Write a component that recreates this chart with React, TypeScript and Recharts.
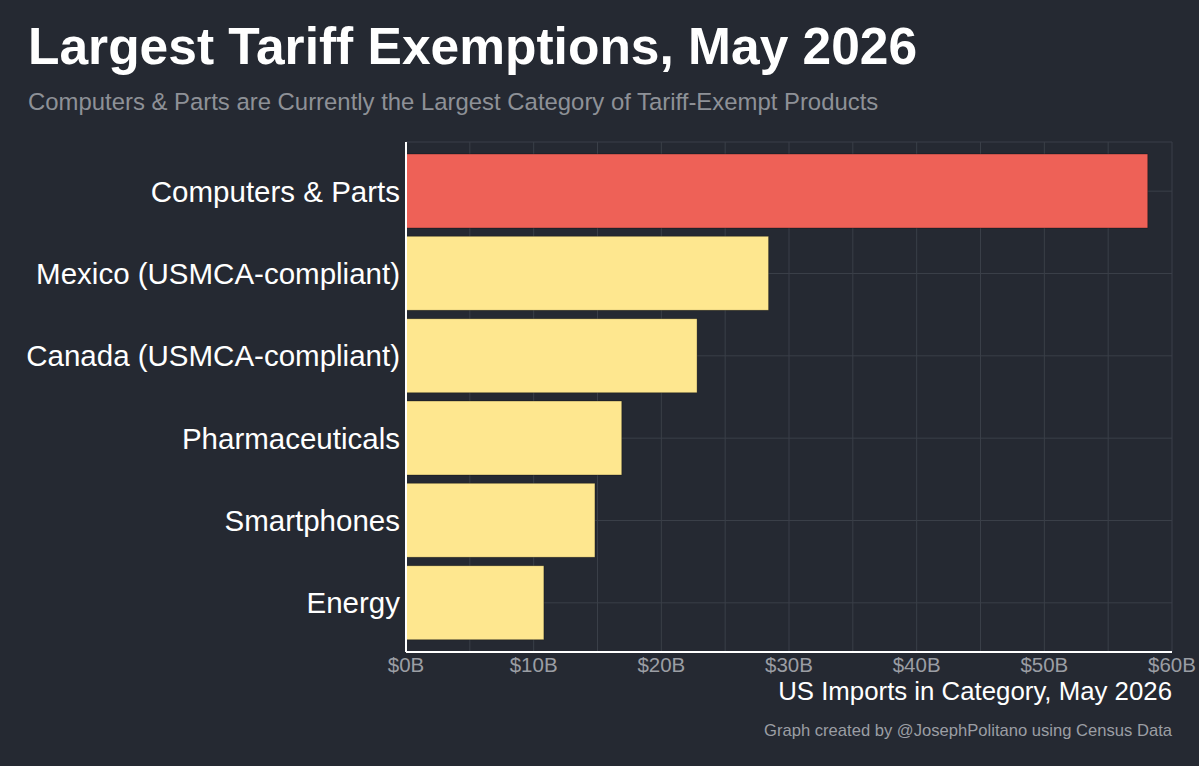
import React from 'react';
import { BarChart, Bar, XAxis, YAxis, CartesianGrid, Cell } from 'recharts';

const categories = [
  'Computers & Parts',
  'Mexico (USMCA-compliant)',
  'Canada (USMCA-compliant)',
  'Pharmaceuticals',
  'Smartphones',
  'Energy',
];
const imports = [58.1, 28.4, 22.8, 16.9, 14.8, 10.8];
const xTicks = [0, 5, 10, 15, 20, 25, 30, 35, 40, 45, 50, 55, 60];

const title = 'Largest Tariff Exemptions, May 2026';
const subtitle = 'Computers & Parts are Currently the Largest Category of Tariff-Exempt Products';
const xTitle = 'US Imports in Category, May 2026';
const caption = 'Graph created by @JosephPolitano using Census Data';

const BG = '#252932';
const RED = '#EE6157';
const YELLOW = '#FEE78F';
const GRID = '#3a3f48';
const FONT = '"Liberation Sans", Arial, Helvetica, sans-serif';

const data = categories.map((name, i) => ({ name, value: imports[i] }));

export default function App() {
  return (
    <div
      style={{
        position: 'absolute',
        left: 0,
        top: 0,
        width: 1199,
        height: 766,
        background: BG,
        fontFamily: FONT,
        overflow: 'hidden',
      }}
    >
      <BarChart
        width={1199}
        height={766}
        data={data}
        layout="vertical"
        margin={{ top: 142, right: 27, bottom: 84, left: 6 }}
        barSize={74}
      >
        <CartesianGrid stroke={GRID} strokeWidth={1} />
        <XAxis
          type="number"
          dataKey="value"
          domain={[0, 60]}
          ticks={xTicks}
          interval={0}
          height={30}
          tickLine={false}
          tickSize={0}
          tickMargin={5}
          axisLine={{ stroke: '#ffffff', strokeWidth: 2 }}
          tick={{ fill: '#9b9ea4', fontSize: 20.5, fontFamily: FONT }}
          tickFormatter={(v: number) => (v % 10 === 0 ? `$${v}B` : '')}
        />
        <YAxis
          type="category"
          dataKey="name"
          width={400}
          padding={{ top: 8, bottom: 8 }}
          tickLine={false}
          tickSize={0}
          tickMargin={6}
          interval={0}
          axisLine={{ stroke: '#ffffff', strokeWidth: 2 }}
          tick={{ fill: '#ffffff', fontSize: 29.5, fontFamily: FONT }}
        />
        <Bar dataKey="value" isAnimationActive={false} stroke="rgba(0,0,0,0.3)" strokeWidth={1}>
          {data.map((d, i) => (
            <Cell key={d.name} fill={i === 0 ? RED : YELLOW} />
          ))}
        </Bar>
      </BarChart>
      <svg
        width={1199}
        height={766}
        style={{ position: 'absolute', left: 0, top: 0, pointerEvents: 'none' }}
      >
        <text x={28} y={63.5} fill="#ffffff" fontSize={51.5} fontWeight="bold" fontFamily={FONT}>
          {title}
        </text>
        <text x={28} y={110} fill="#8e9197" fontSize={23.9} fontFamily={FONT}>
          {subtitle}
        </text>
        <text x={1172} y={700} fill="#ffffff" fontSize={25.8} textAnchor="end" fontFamily={FONT}>
          {xTitle}
        </text>
        <text x={1172} y={736} fill="#9b9ea4" fontSize={16.6} textAnchor="end" fontFamily={FONT}>
          {caption}
        </text>
      </svg>
    </div>
  );
}
